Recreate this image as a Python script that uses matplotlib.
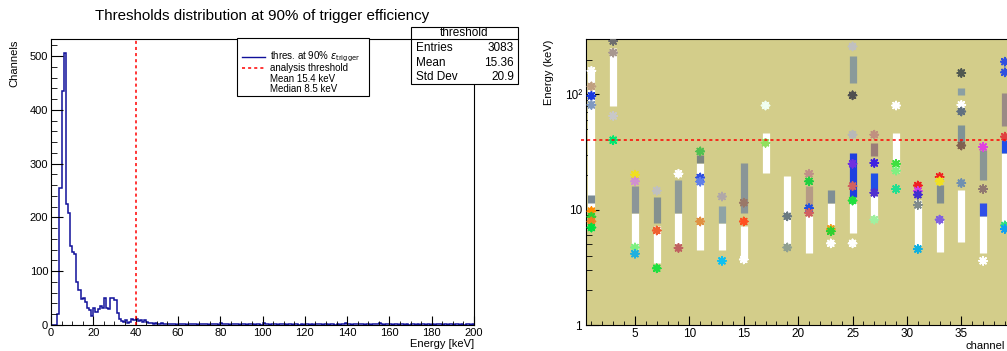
import matplotlib

matplotlib.use("Agg")
import matplotlib.pyplot as plt
import numpy as np
from matplotlib.lines import Line2D
from matplotlib.patches import Rectangle
from matplotlib.ticker import FixedLocator, LogLocator, MultipleLocator, NullFormatter

plt.rcParams["font.family"] = ["Liberation Sans", "DejaVu Sans"]

# --- left panel: threshold histogram (1 keV bins, 0-200 keV) ---
counts = [
    0, 0, 0, 20, 255, 435, 506, 225, 209, 146,
    135, 132, 80, 65, 48, 51, 42, 31, 28, 17,
    31, 24, 29, 35, 32, 51, 31, 30, 51, 50,
    46, 22, 12, 7, 6, 9, 4, 6, 12, 9,
    12, 8, 10, 6, 9, 5, 4, 3, 2, 3,
    2, 1, 3, 1, 2, 1, 1, 2, 1, 0,
    1, 2, 1, 1, 0, 1, 2, 1, 1, 0,
    1, 1, 2, 1, 0, 1, 1, 1, 2, 0,
    3, 2, 1, 1, 0, 1, 2, 1, 1, 0,
    1, 2, 0, 1, 1, 1, 0, 1, 1, 0,
    3, 1, 1, 0, 1, 1, 1, 0, 1, 1,
    1, 0, 1, 1, 0, 1, 1, 0, 1, 0,
    1, 1, 0, 1, 0, 1, 2, 1, 0, 1,
    1, 0, 1, 1, 0, 1, 0, 1, 1, 3,
    1, 1, 0, 1, 1, 1, 2, 1, 0, 1,
    1, 0, 1, 1, 2, 3, 1, 0, 1, 1,
    1, 0, 1, 1, 0, 2, 1, 0, 1, 0,
    1, 1, 0, 1, 0, 1, 1, 0, 1, 0,
    1, 0, 1, 1, 2, 0, 1, 0, 1, 1,
    0, 1, 1, 0, 1, 0, 1, 1, 0, 1,
]
bin_edges = np.arange(0, 201)
analysis_threshold = 40.0

stats_labels = ["Entries", "Mean", "Std Dev"]
stats_values = ["3083", "15.36", "20.9"]
legend_lines = ["thres. at 90% $\\epsilon_{\\rm trigger}$", "analysis threshold"]
legend_notes = ["Mean 15.4 keV", "Median 8.5 keV"]

# --- right panel: per-channel thresholds (keV) ---
# white columns (channel, low, high)
white_ch = [1, 3, 5, 7, 9, 11, 13, 15, 17, 19, 21, 23, 25, 27, 29, 31, 33, 35, 37, 39]
white_lo = [10, 79, 4.5, 3.45, 5.0, 4.5, 4.5, 3.7, 20.8, 4.8, 4.2, 7.3, 6.3, 8.2, 20.8, 4.8, 4.3, 5.2, 4.2, 7.7]
white_hi = [160, 250, 9.4, 7.2, 9.4, 25.4, 7.7, 7.2, 46, 19.5, 8.75, 11.4, 11.4, 13.5, 46, 12.2, 8.2, 14.9, 8.75, 31]

# coloured clusters (channel, low, high, colour)
band_ch = [1, 5, 7, 9, 11, 13, 15, 21, 23, 25, 25, 27, 27, 33, 35, 35, 37, 37, 39, 39]
band_lo = [11.5, 9.4, 7.7, 9.4, 25.4, 7.7, 9.4, 9.4, 11.4, 125, 13, 29, 14.4, 11.4, 35.5, 99, 18.2, 8.75, 53, 31]
band_hi = [13.5, 15.9, 13.0, 18.2, 30, 10.7, 25.4, 15.9, 14.9, 214, 31, 38, 20.8, 16.5, 54.7, 113, 33, 11.5, 103, 40]
band_col = ["#7a8a95", "#8c9598", "#84918f", "#8e9a98", "#7c8580", "#8fa3a5", "#8a9597",
            "#b59a85", "#7f8e95", "#8a9a9a", "#1f3fe0", "#9a7e78", "#1f4fe8", "#7f8c8f",
            "#7f9396", "#8a9fa3", "#8a9694", "#2f4fe8", "#9a8a85", "#1f4fe8"]

# single markers (channel, energy, colour)
pt_ch = [1, 1, 1, 1, 1, 1, 1, 1,
         3, 3, 3, 3,
         5, 5, 5, 5,
         7, 7, 7,
         9, 9,
         11, 11, 11, 11,
         13, 13,
         15, 15, 15,
         17, 17,
         19, 19,
         21, 21, 21, 21,
         23, 23, 23,
         25, 25, 25, 25, 25, 25, 25,
         27, 27, 27, 27,
         29, 29, 29, 29,
         31, 31, 31, 31, 31,
         33, 33, 33,
         35, 35, 35, 35, 35,
         37, 37, 37,
         39, 39, 39, 39, 39]
pt_e = [160, 117, 97, 81, 9.7, 8.7, 7.9, 7.0,
        290, 230, 65, 40,
        20.1, 17.6, 4.7, 4.15,
        14.6, 6.6, 3.1,
        20.5, 4.66,
        32, 19, 17.5, 7.9,
        13.0, 3.6,
        11.5, 7.9, 3.7,
        80, 38,
        8.75, 4.7,
        20.5, 17.6, 10.3, 9.4,
        6.8, 6.5, 5.1,
        260, 98, 44.7, 25, 16, 12, 5.1,
        44.7, 25.4, 14.0, 8.2,
        80, 25, 21.8, 15.1,
        16.2, 14.5, 13.5, 11.0, 4.56,
        19.2, 17.6, 8.2,
        153, 81, 71, 36, 17,
        35, 15.1, 3.6,
        192, 155, 43, 7.3, 6.8]
pt_col = ["#ffffff", "#c0a080", "#1a3adf", "#7f99c0", "#ff8c00", "#30d030", "#f08020", "#00e040",
          "#6e6e6e", "#a89890", "#c8c8c8", "#00e870",
          "#f0e020", "#d090d0", "#80f080", "#20b0e0",
          "#c0c0c0", "#f06030", "#20e040",
          "#ffffff", "#c06060",
          "#50c050", "#3050e0", "#6080e8", "#e09040",
          "#b0a8a8", "#10c0f0",
          "#9a7868", "#ff5020", "#ffffff",
          "#f0fff0", "#90e060",
          "#6a7a80", "#90a090",
          "#c09088", "#20d040", "#2050e0", "#d06060",
          "#f0a020", "#30d030", "#ffffff",
          "#c0c0c0", "#505050", "#b8b8b8", "#7030e0", "#d06060", "#20e040", "#ffffff",
          "#c09080", "#4020e0", "#5030d0", "#a0f0a0",
          "#ffffff", "#40e040", "#80f080", "#20e090",
          "#f02020", "#d040e0", "#4030d0", "#7f8a8a", "#10b0e0",
          "#f02020", "#f0e020", "#8060e0",
          "#505850", "#ffffff", "#607080", "#806050", "#7090b0",
          "#e040e0", "#907870", "#ffffff",
          "#3050e0", "#3050e0", "#e04040", "#30e080", "#10a0f0"]

W, H = 1007, 351


def px(x, y):
    """pixel position (from top-left) -> figure fraction"""
    return x / W, 1 - y / H


fig = plt.figure(figsize=(W / 100, H / 100), dpi=100)
ax1 = fig.add_axes([51 / W, 26 / H, 423 / W, 285.7 / H])
ax2 = fig.add_axes([586 / W, 26 / H, 433 / W, 285.7 / H])

# left: histogram
ax1.stairs(counts, bin_edges, color="#10109a", linewidth=1.1, baseline=0)
ax1.axvline(analysis_threshold, color="red", linestyle=(0, (2, 2)), linewidth=1.1)
ax1.set_xlim(0, 200)
ax1.set_ylim(0, 531)
ax1.xaxis.set_major_locator(MultipleLocator(20))
ax1.xaxis.set_minor_locator(MultipleLocator(5))
ax1.yaxis.set_major_locator(MultipleLocator(100))
ax1.yaxis.set_minor_locator(MultipleLocator(20))
ax1.tick_params(which="both", direction="in", labelsize=8, pad=2)
ax1.tick_params(axis="y", which="major", length=8.6)
ax1.tick_params(axis="y", which="minor", length=4.3)
ax1.tick_params(axis="x", which="major", length=6.2)
ax1.tick_params(axis="x", which="minor", length=3.1)

fig.text(*px(262, 16), "Thresholds distribution at 90% of trigger efficiency",
         ha="center", va="center", fontsize=10.9)
fig.text(*px(14, 40), "Channels", rotation=90, ha="center", va="top", fontsize=8)
fig.text(*px(474, 344), "Energy [keV]", ha="right", va="center", fontsize=8)

# legend box
fig.add_artist(Rectangle(px(237, 96), 132 / W, 57.7 / H, transform=fig.transFigure,
                         facecolor="white", edgecolor="black", linewidth=0.8, zorder=5))
fig.add_artist(Line2D([242 / W, 265 / W], [px(0, 57.3)[1]] * 2, transform=fig.transFigure,
                      color="#10109a", linewidth=1, zorder=6))
fig.add_artist(Line2D([242 / W, 265 / W], [px(0, 67.7)[1]] * 2, transform=fig.transFigure,
                      color="red", linestyle=(0, (2, 2)), linewidth=1.1, zorder=6))
for txt, y in zip(legend_lines + legend_notes, [57.3, 67.7, 78.8, 89.3]):
    fig.text(*px(270, y), txt, ha="left", va="center", fontsize=7, zorder=6)

# stats box
fig.add_artist(Rectangle(px(411, 84.3), 107 / W, 57.6 / H, transform=fig.transFigure,
                         facecolor="white", edgecolor="black", linewidth=0.8, zorder=5))
fig.add_artist(Line2D([411 / W, 518 / W], [px(0, 39.3)[1]] * 2, transform=fig.transFigure,
                      color="black", linewidth=0.8, zorder=6))
fig.text(*px(464.5, 33.5), "threshold", ha="center", va="center", fontsize=8.5, zorder=6)
for lab, val, y in zip(stats_labels, stats_values, [48.3, 62.7, 77.3]):
    fig.text(*px(416, y), lab, ha="left", va="center", fontsize=8.5, zorder=6)
    fig.text(*px(514, y), val, ha="right", va="center", fontsize=8.5, zorder=6)

# right: thresholds per channel
ax2.set_facecolor("#d3cd8a")
ax2.vlines(white_ch, white_lo, white_hi, colors="white", linewidth=5.2, zorder=2)
ax2.vlines(band_ch, band_lo, band_hi, colors=band_col, linewidth=5.2, zorder=3)
ax2.scatter(pt_ch, pt_e, color=pt_col, marker=(8, 2, 0), s=32, linewidths=1.3, zorder=4)
ax2.plot([0, 40.3], [analysis_threshold] * 2, color="red", linestyle=(0, (2, 2)),
         linewidth=1.1, clip_on=False, zorder=5)
ax2.set_yscale("log")
ax2.set_xlim(0.5, 40.3)
ax2.set_ylim(1, 300)
ax2.xaxis.set_major_locator(FixedLocator([5, 10, 15, 20, 25, 30, 35]))
ax2.xaxis.set_minor_locator(MultipleLocator(1))
ax2.set_yticks([1, 10, 100], labels=["1", "10", "10\u00b2"])
ax2.yaxis.set_minor_locator(LogLocator(base=10, subs=range(2, 10)))
ax2.yaxis.set_minor_formatter(NullFormatter())
ax2.tick_params(which="both", direction="in", labelsize=8.5)
ax2.tick_params(axis="x", pad=2)
ax2.tick_params(axis="y", which="major", length=9.3, pad=3)
ax2.tick_params(axis="y", which="minor", length=4.6)
ax2.tick_params(axis="x", which="major", length=6.2)
ax2.tick_params(axis="x", which="minor", length=3.1)

fig.text(*px(549, 40), "Energy (keV)", rotation=90, ha="center", va="top", fontsize=8)
fig.text(*px(1005, 346), "channel", ha="right", va="center", fontsize=8)

fig.savefig("out.png", dpi=100)
